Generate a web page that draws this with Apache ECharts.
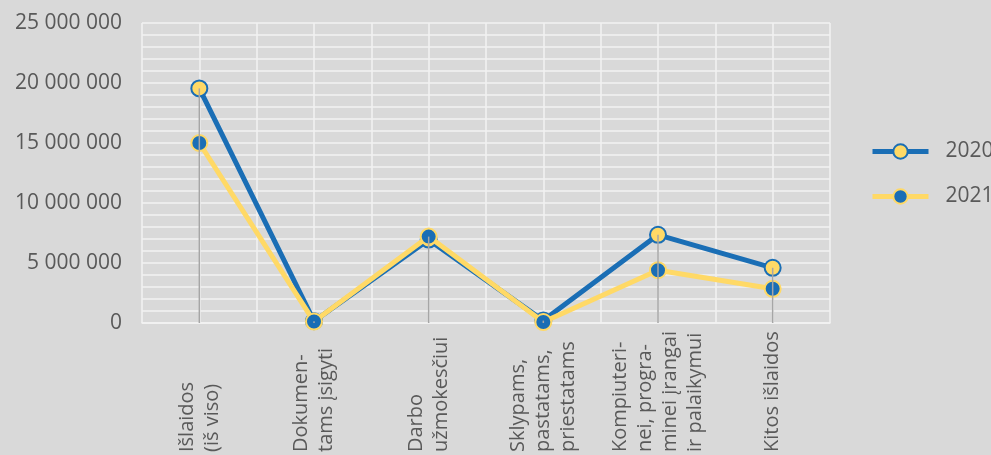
<!DOCTYPE html>
<html>
<head>
<meta charset="utf-8">
<script src="https://cdn.jsdelivr.net/npm/echarts@6/dist/echarts.min.js"></script>
<style>
html,body{margin:0;padding:0;background:#D9D9D9;overflow:hidden;}
#c{width:991px;height:455px;}
</style>
</head>
<body>
<div id="c"></div>
<script>
const categories = ['Išlaidos\n(iš viso)', 'Dokumen-\ntams įsigyti', 'Darbo\nužmokesčiui', 'Sklypams,\npastatams,\npriestatams', 'Kompiuteri-\nnei, progra-\nminei įrangai\nir palaikymui', 'Kitos išlaidos'];
const values2020 = [19550000, 150000, 6950000, 200000, 7350000, 4600000];
const values2021 = [15000000, 120000, 7200000, 80000, 4400000, 2850000];
const seriesNames = ['2020', '2021'];
const yTicks = [0, 5000000, 10000000, 15000000, 20000000, 25000000];

const BLUE = '#1A6EB5';
const YELLOW = '#FFD966';
const TEXT = '#595959';
const FONT = 'Open Sans';

const dropData = values2020.map((v, i) => Math.max(v, values2021[i]));

function fmt(v) {
  return String(Math.round(v)).replace(/\B(?=(\d{3})+(?!\d))/g, ' ');
}

const chart = echarts.init(document.getElementById('c'), null, {renderer: 'canvas'});
chart.setOption({
  backgroundColor: '#D9D9D9',
  animation: false,
  textStyle: {fontFamily: FONT},
  grid: {left: 142, right: 161, top: 23, bottom: 129, containLabel: false},
  legend: {
    data: seriesNames,
    orient: 'vertical',
    left: 870,
    top: 141,
    padding: 0,
    itemWidth: 56,
    itemHeight: 18,
    itemGap: 24,
    lineStyle: {width: 5},
    textStyle: {color: TEXT, fontSize: 21, fontFamily: FONT, padding: [0, 0, 0, 12]}
  },
  xAxis: [{
    type: 'category',
    data: categories,
    boundaryGap: true,
    axisLine: {show: true, lineStyle: {color: '#F2F2F2', width: 1.5}},
    axisTick: {show: false},
    splitLine: {show: false},
    axisLabel: {
      interval: 0,
      rotate: 90,
      align: 'left',
      verticalAlign: 'middle',
      margin: 129,
      fontSize: 20,
      lineHeight: 25,
      color: TEXT,
      fontFamily: FONT
    }
  }, {
    type: 'value',
    min: 0,
    max: categories.length * 2,
    interval: 1,
    position: 'bottom',
    axisLine: {show: false},
    axisTick: {show: false},
    axisLabel: {show: false},
    splitLine: {show: true, lineStyle: {color: '#F2F2F2', width: 1.5}}
  }],
  yAxis: {
    type: 'value',
    min: yTicks[0],
    max: yTicks[yTicks.length - 1],
    interval: yTicks[1] - yTicks[0],
    axisLine: {show: false},
    axisTick: {show: false},
    axisLabel: {color: TEXT, fontSize: 21, margin: 20, fontFamily: FONT, formatter: fmt},
    splitLine: {show: true, lineStyle: {color: '#F2F2F2', width: 1.5}},
    minorTick: {show: false, splitNumber: 5},
    minorSplitLine: {show: true, lineStyle: {color: '#F2F2F2', width: 1.5}}
  },
  series: [{
    name: seriesNames[0],
    type: 'line',
    data: values2020,
    symbol: 'circle',
    symbolSize: 16,
    z: 3,
    lineStyle: {color: BLUE, width: 5},
    itemStyle: {color: YELLOW, borderColor: BLUE, borderWidth: 2}
  }, {
    name: seriesNames[1],
    type: 'line',
    data: values2021,
    symbol: 'circle',
    symbolSize: 16,
    z: 4,
    lineStyle: {color: YELLOW, width: 5},
    itemStyle: {color: BLUE, borderColor: YELLOW, borderWidth: 2}
  }, {
    name: 'drop',
    type: 'custom',
    data: dropData,
    z: 10,
    silent: true,
    renderItem: function (params, api) {
      const top = api.coord([api.value(0), api.value(1)]);
      const bot = api.coord([api.value(0), 0]);
      return {
        type: 'line',
        shape: {x1: top[0], y1: top[1], x2: bot[0], y2: bot[1]},
        style: {stroke: '#A6A6A6', lineWidth: 1.5}
      };
    },
    encode: {x: 0, y: 1}
  }]
});
</script>
</body>
</html>
